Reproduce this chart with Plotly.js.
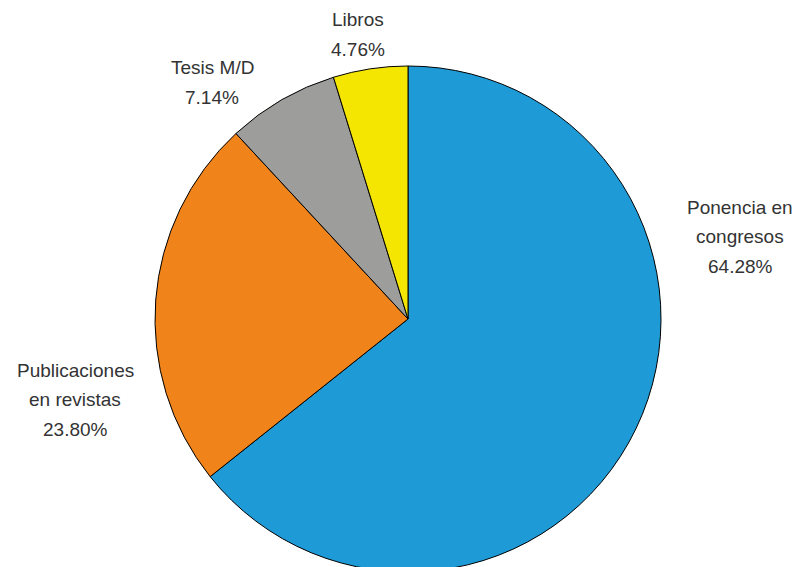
<!DOCTYPE html>
<html>
<head>
<meta charset="utf-8">
<script src="https://cdn.plot.ly/plotly-3.0.1.min.js"></script>
<style>
html, body { margin: 0; padding: 0; background: #fff; overflow: hidden; }
#wrap { width: 804px; height: 567px; overflow: hidden; }
#chart { width: 804px; height: 620px; }
</style>
</head>
<body>
<div id="wrap"><div id="chart"></div></div>
<script>
// Data
const labels = ["Ponencia en congresos", "Publicaciones en revistas", "Tesis M/D", "Libros"];
const labelLines = [["Ponencia en", "congresos"], ["Publicaciones", "en revistas"], ["Tesis M/D"], ["Libros"]];
const values = [64.28, 23.80, 7.14, 4.76];
const colors = ["#1e9bd7", "#f0831a", "#9d9d9c", "#f4e600"];

// Layout (pixel geometry)
const W = 804, H = 620;
const cx = 408, cy = 319, R = 253;
const labelPos = [[740, 207], [75, 370], [212, 68], [358, 20]]; // center x, first line center y
const lineStep = 29.5;

const annotations = [];
labels.forEach((lab, i) => {
  const lines = labelLines[i].concat([values[i].toFixed(2) + "%"]);
  lines.forEach((t, j) => {
    annotations.push({
      text: t,
      xref: "paper", yref: "paper",
      x: labelPos[i][0] / W,
      y: (H - (labelPos[i][1] + j * lineStep)) / H,
      xanchor: "center", yanchor: "middle",
      showarrow: false,
      font: { family: "Liberation Sans, Arial, sans-serif", size: 19, color: "#333333" }
    });
  });
});

const trace = {
  type: "pie",
  labels: labels,
  values: values,
  sort: false,
  direction: "clockwise",
  rotation: 0,
  textinfo: "none",
  hoverinfo: "none",
  marker: { colors: colors, line: { color: "#000000", width: 1 } },
  domain: { x: [(cx - R) / W, (cx + R) / W], y: [(H - cy - R) / H, (H - cy + R) / H] }
};

const layout = {
  width: W, height: H,
  margin: { l: 0, r: 0, t: 0, b: 0 },
  showlegend: false,
  paper_bgcolor: "#ffffff",
  annotations: annotations
};

Plotly.newPlot("chart", [trace], layout, { displayModeBar: false, staticPlot: true });
</script>
</body>
</html>
